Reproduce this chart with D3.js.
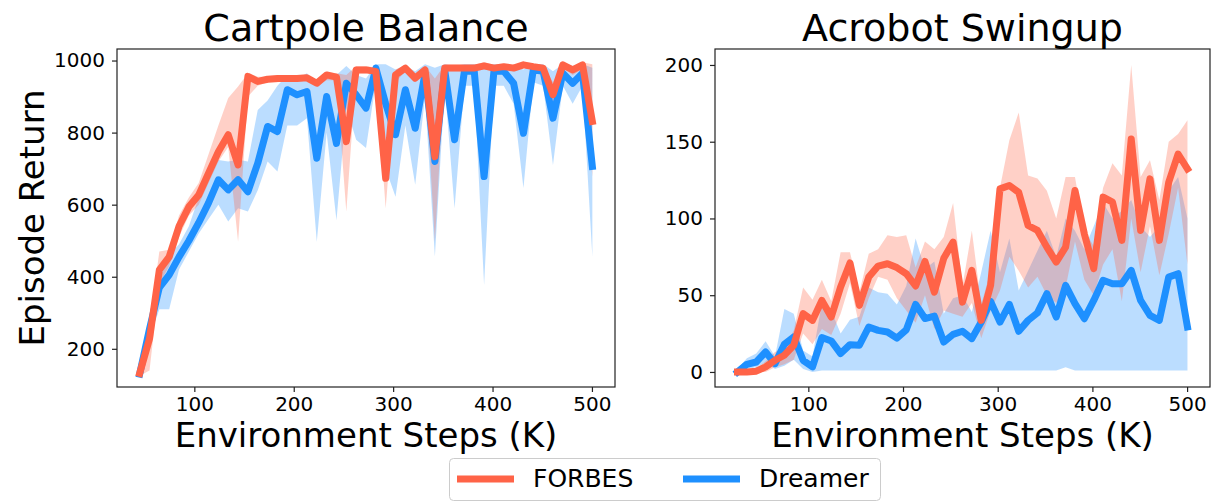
<!DOCTYPE html>
<html>
<head>
<meta charset="utf-8">
<script src="https://cdn.jsdelivr.net/npm/d3@7"></script>
<style>
  body { margin: 0; background: #fff; }
  text { font-family: "DejaVu Sans", sans-serif; fill: #000; }
</style>
</head>
<body>
<div id="chart"></div>
<script>
// Environment steps (K) for each evaluation point
var cartSteps = [45, 54.9, 64.8, 74.7, 84.6, 94.5, 104.4, 114.3, 124.2, 134.1, 144, 153.9, 163.8, 173.7, 183.6, 193.5, 203.4, 213.3, 223.2, 233.1, 243, 252.9, 262.8, 272.7, 282.6, 292.5, 302.4, 312.3, 322.2, 332.1, 342, 351.9, 361.8, 371.7, 381.6, 391.5, 401.4, 411.3, 421.2, 431.1, 441, 450.9, 460.8, 470.7, 480.6, 490.5, 500.4];
var acroSteps = [25.2, 35.1, 45, 54.9, 64.8, 74.7, 84.6, 94.5, 104.4, 114.3, 124.2, 134.1, 144, 153.9, 163.8, 173.7, 183.6, 193.5, 203.4, 213.3, 223.2, 233.1, 243, 252.9, 262.8, 272.7, 282.6, 292.5, 302.4, 312.3, 322.2, 332.1, 342, 351.9, 361.8, 371.7, 381.6, 391.5, 401.4, 411.3, 421.2, 431.1, 441, 450.9, 460.8, 470.7, 480.6, 490.5, 500.4];

// Cartpole Balance: mean, lower and upper band
var forbesCart = [132, 228, 419, 455, 540, 594, 627, 687, 747, 794, 710, 956, 942, 948, 950, 950, 950, 952, 937, 960, 954, 775, 974, 974, 970, 673, 960, 979, 951, 974, 733, 979, 979, 979, 979, 985, 979, 983, 979, 988, 983, 979, 905, 988, 974, 988, 831];
var forbesCartLo = [125, 140, 380, 430, 510, 570, 600, 660, 720, 760, 497, 900, 930, 940, 940, 945, 945, 945, 930, 945, 945, 581, 965, 965, 960, 590, 940, 970, 940, 965, 497, 970, 970, 970, 970, 975, 970, 975, 970, 980, 975, 970, 870, 980, 960, 975, 678];
var forbesCartHi = [140, 270, 470, 475, 570, 620, 660, 740, 820, 896, 928, 965, 955, 955, 955, 955, 955, 958, 945, 968, 965, 960, 985, 985, 980, 760, 975, 988, 965, 985, 950, 988, 988, 988, 988, 995, 988, 990, 988, 995, 990, 988, 940, 995, 985, 995, 990];
var dreamerCart = [130, 255, 370, 405, 455, 500, 550, 605, 669, 641, 669, 636, 715, 817, 803, 919, 905, 914, 729, 900, 770, 937, 905, 868, 979, 880, 794, 919, 812, 965, 720, 974, 780, 970, 970, 678, 970, 970, 937, 798, 974, 970, 840, 965, 937, 965, 706];
var dreamerCartLo = [125, 230, 310, 310, 420, 470, 520, 560, 600, 553, 590, 581, 640, 720, 692, 820, 820, 840, 497, 800, 557, 870, 780, 757, 940, 700, 622, 820, 655, 900, 456, 930, 590, 930, 930, 377, 930, 930, 880, 646, 940, 930, 710, 930, 880, 930, 456];
var dreamerCartHi = [140, 275, 400, 460, 490, 540, 620, 690, 724, 720, 725, 720, 863, 889, 930, 960, 950, 965, 930, 965, 960, 985, 960, 950, 990, 990, 975, 985, 970, 990, 980, 990, 985, 990, 990, 990, 990, 990, 985, 975, 990, 990, 970, 990, 985, 990, 980];

// Acrobot Swingup: mean, lower and upper band
var forbesAcro = [0, 0, 0.5, 3.3, 7.6, 10.9, 17.4, 38, 33.6, 46.6, 35.8, 55.3, 71, 43.4, 61.8, 69, 70.5, 68, 64, 56, 72, 52, 74, 84.6, 45.5, 66.2, 33.6, 56.4, 119.3, 121.5, 117, 95.4, 92.2, 81.3, 71.6, 81.3, 118.2, 90, 67.3, 113.9, 110.6, 85.7, 151.8, 92.2, 125.8, 85.7, 123.6, 142, 132.3];
var forbesAcroLo = [0, 0, 0, 0, 3, 5, 8, 25, 18, 28, 24, 38, 58, 30, 48, 62, 60, 48, 40, 32, 50, 28, 40, 38, 36, 45, 22, 40, 53, 75, 66, 55, 62, 50, 45, 55, 85, 60, 50, 70, 80, 46, 100, 65, 95, 63, 90, 120, 70];
var forbesAcroHi = [1, 1, 2, 7, 13, 16, 27, 55, 47, 60, 46, 78, 78, 52, 77, 80, 89, 88, 89, 68, 85, 80, 88, 110, 56, 92, 44, 66, 120, 151, 169, 128, 126, 118, 100, 127, 127, 92, 82, 120, 136, 128, 200, 127, 138, 112, 150, 155, 164];
var dreamerAcro = [0, 5, 6.5, 13, 5.4, 18, 22.8, 7.6, 3.3, 22.4, 20.2, 12, 17.8, 17.4, 29.3, 27.1, 26, 22, 27.4, 44, 34.8, 36.4, 19.5, 24.5, 26.5, 21.7, 32.5, 46, 32.5, 44, 26.5, 33.6, 38.5, 51, 35.8, 56.4, 44.5, 34.7, 46.6, 59.7, 57.5, 57.5, 66.2, 46.6, 36.9, 33.6, 61.8, 64, 29.3];
var dreamerAcroLo = [0, 2, 3, 6, 2, 4, 8, 2, 0, 1, 1, 1, 1, 1, 1, 1, 1, 1, 1, 1, 1, 1, 1, 1, 1, 1, 1, 1, 1, 1, 1, 1, 1, 1, 1, 3, 1, 1, 1, 1, 1, 1, 1, 1, 1, 1, 1, 1, 1];
var dreamerAcroHi = [2, 9, 12, 20, 10, 41, 38, 14, 10, 45, 40, 25, 34, 36, 55, 52, 51, 44, 56, 87, 67, 72, 38, 48, 50, 39, 65, 92, 65, 87, 53, 66, 79, 92, 75, 100, 92, 80, 95, 110, 100, 105, 112, 95, 88, 95, 118, 127, 100];

// Tick values
var xTicks = [100, 200, 300, 400, 500];
var cartYTicks = [200, 400, 600, 800, 1000];
var acroYTicks = [0, 50, 100, 150, 200];

var methodNames = ["FORBES", "Dreamer"];
var colors = { FORBES: "#FF6347", Dreamer: "#1E90FF" };

var svgWidth = 1216;
var svgHeight = 502;

var svg = d3.select("#chart")
  .append("svg")
  .attr("width", svgWidth)
  .attr("height", svgHeight);

function drawPanel(p) {
  var xScale = d3.scaleLinear().domain(p.xDomain).range([p.left, p.right]);
  var yScale = d3.scaleLinear().domain(p.yDomain).range([p.bottom, p.top]);

  var g = svg.append("g");

  // clip to the axes box
  var clipId = "clip-" + p.id;
  g.append("clipPath").attr("id", clipId)
    .append("rect")
    .attr("x", p.left).attr("y", p.top)
    .attr("width", p.right - p.left).attr("height", p.bottom - p.top);

  var plot = g.append("g").attr("clip-path", "url(#" + clipId + ")");

  // bands first, then lines (Dreamer under FORBES)
  var order = [p.series[1], p.series[0]];
  order.forEach(function(s) {
    var area = d3.area()
      .x(function(d, i) { return xScale(p.steps[i]); })
      .y0(function(d, i) { return yScale(s.lo[i]); })
      .y1(function(d, i) { return yScale(s.hi[i]); });
    plot.append("path")
      .datum(s.mean)
      .attr("d", area)
      .attr("fill", colors[s.name])
      .attr("fill-opacity", 0.3);
  });

  order.forEach(function(s) {
    var line = d3.line()
      .x(function(d, i) { return xScale(p.steps[i]); })
      .y(function(d) { return yScale(d); });
    g.append("path")
      .datum(s.mean)
      .attr("d", line)
      .attr("fill", "none")
      .attr("stroke", colors[s.name])
      .attr("stroke-width", 7)
      .attr("stroke-linejoin", "round")
      .attr("stroke-linecap", "square");
  });

  // axes
  var bottomAxis = d3.axisBottom(xScale).tickValues(xTicks).tickFormat(d3.format("d"))
    .tickSize(5).tickSizeOuter(0).tickPadding(5);
  var leftAxis = d3.axisLeft(yScale).tickValues(p.yTicks).tickFormat(d3.format("d"))
    .tickSize(5).tickSizeOuter(0).tickPadding(7);

  var xg = g.append("g")
    .attr("transform", "translate(0," + p.bottom + ")")
    .call(bottomAxis);
  var yg = g.append("g")
    .attr("transform", "translate(" + p.left + ",0)")
    .call(leftAxis);

  [xg, yg].forEach(function(ax) {
    ax.select(".domain").remove();
    ax.selectAll(".tick line").attr("stroke", "#222").attr("stroke-width", 1.2);
    ax.selectAll(".tick text")
      .attr("font-family", "DejaVu Sans")
      .attr("font-size", "20px")
      .attr("fill", "#000");
  });

  // axes frame
  g.append("rect")
    .attr("x", p.left).attr("y", p.top)
    .attr("width", p.right - p.left).attr("height", p.bottom - p.top)
    .attr("fill", "none")
    .attr("stroke", "#222")
    .attr("stroke-width", 1.2);

  // title
  g.append("text")
    .attr("x", (p.left + p.right) / 2)
    .attr("y", 41)
    .attr("text-anchor", "middle")
    .attr("font-size", "38px")
    .text(p.title);

  // x label
  g.append("text")
    .attr("x", (p.left + p.right) / 2)
    .attr("y", 447)
    .attr("text-anchor", "middle")
    .attr("font-size", "34px")
    .text("Environment Steps (K)");
}

drawPanel({
  id: "cart",
  title: "Cartpole Balance",
  left: 117, right: 615, top: 49, bottom: 387,
  xDomain: [22.2, 523.2],
  yDomain: [94, 1032],
  yTicks: cartYTicks,
  steps: cartSteps,
  series: [
    { name: "FORBES", mean: forbesCart, lo: forbesCartLo, hi: forbesCartHi },
    { name: "Dreamer", mean: dreamerCart, lo: dreamerCartLo, hi: dreamerCartHi }
  ]
});

drawPanel({
  id: "acro",
  title: "Acrobot Swingup",
  left: 715, right: 1210, top: 49, bottom: 387,
  xDomain: [1.44, 524.2],
  yDomain: [-9.8, 210.4],
  yTicks: acroYTicks,
  steps: acroSteps,
  series: [
    { name: "FORBES", mean: forbesAcro, lo: forbesAcroLo, hi: forbesAcroHi },
    { name: "Dreamer", mean: dreamerAcro, lo: dreamerAcroLo, hi: dreamerAcroHi }
  ]
});

// y label
svg.append("text")
  .attr("transform", "translate(44, 218) rotate(-90)")
  .attr("text-anchor", "middle")
  .attr("font-size", "34px")
  .text("Episode Return");

// legend
var legend = svg.append("g");
legend.append("rect")
  .attr("x", 449.5).attr("y", 458.5)
  .attr("width", 431).attr("height", 42)
  .attr("rx", 4)
  .attr("fill", "#fff")
  .attr("fill-opacity", 0.8)
  .attr("stroke", "#ccc");

var legendX = [457, 683];
methodNames.forEach(function(name, i) {
  legend.append("line")
    .attr("x1", legendX[i]).attr("x2", legendX[i] + 57)
    .attr("y1", 479).attr("y2", 479)
    .attr("stroke", colors[name])
    .attr("stroke-width", 7);
  legend.append("text")
    .attr("x", legendX[i] + 76)
    .attr("y", 487)
    .attr("font-size", "25px")
    .text(name);
});
</script>
</body>
</html>
